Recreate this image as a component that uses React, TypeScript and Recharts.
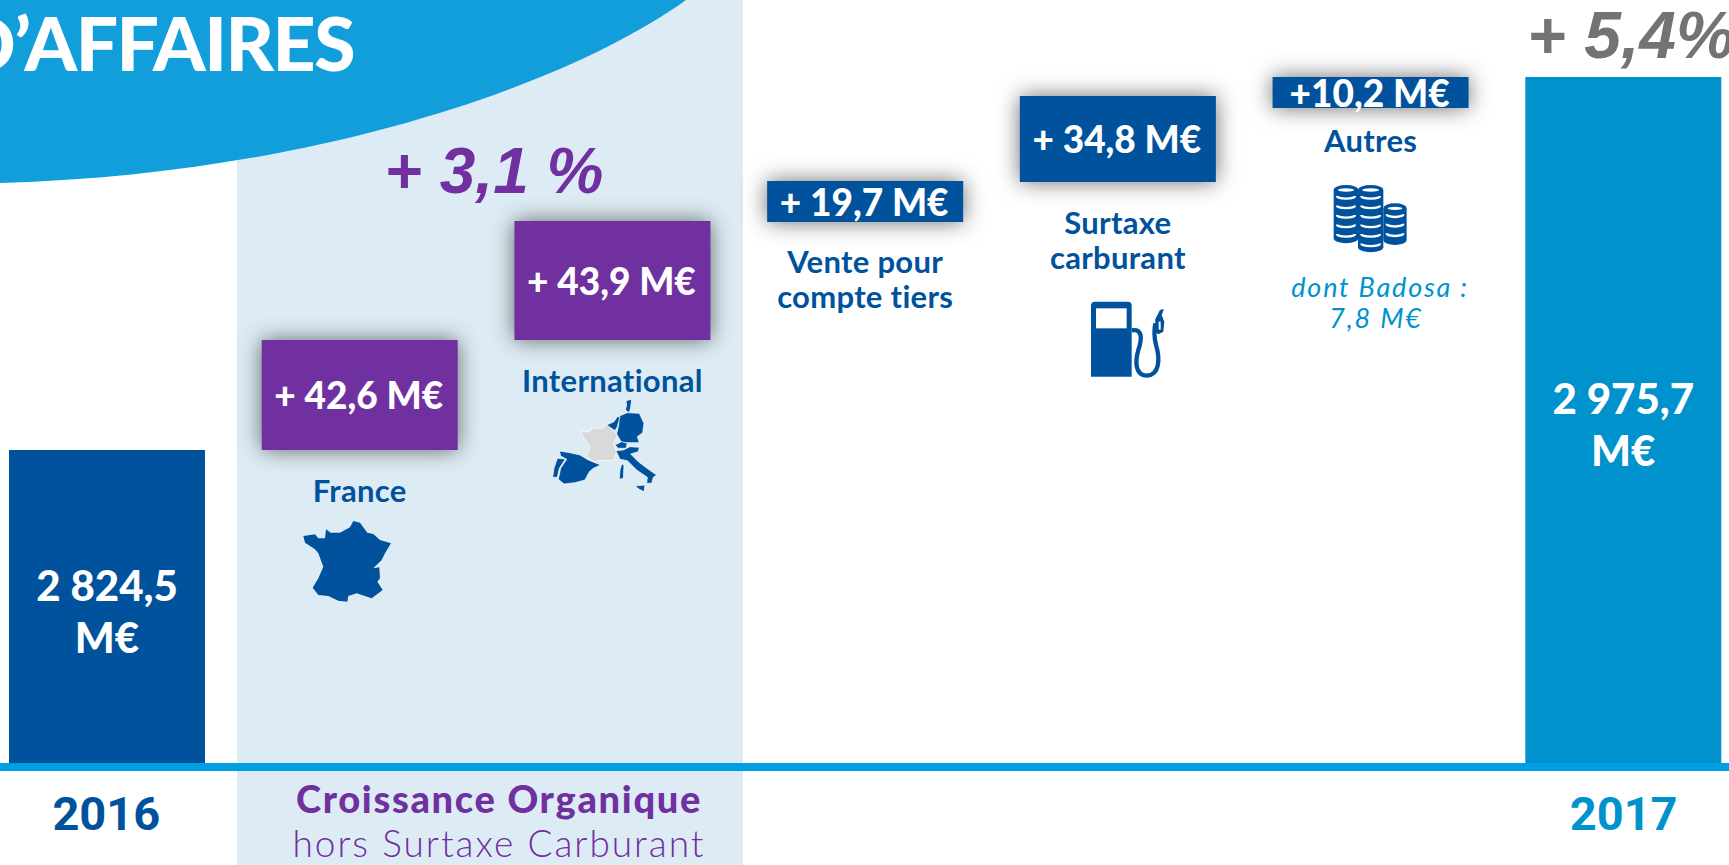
import { BarChart, Bar, XAxis, YAxis, LabelList, Rectangle } from 'recharts'

// bar extents are read off the picture in M€: the slide is not quite to scale
const categories = ['2016', 'France', 'International', 'Vente pour compte tiers', 'Surtaxe carburant', 'Autres', '2017']
const barLows = [2697.6, 2824.5, 2869.1, 2916.9, 2933.1, 2963.1, 2697.6]
const barHighs = [2824.5, 2869.1, 2917.3, 2933.5, 2968.0, 2975.7, 2975.7]
const barLabels = ['2 824,5 M€', '+ 42,6 M€', '+ 43,9 M€', '+ 19,7 M€', '+ 34,8 M€', '+10,2 M€', '2 975,7 M€']
const captions = [[], ['France'], ['International'], ['Vente pour', 'compte tiers'], ['Surtaxe', 'carburant'], ['Autres'], []]

const data = categories.map((name, i) => ({
  name,
  range: [barLows[i], barHighs[i]],
  label: barLabels[i],
}))

const BLUE = '#00529C'
const CYAN = '#0092CD'
const PURPLE = '#7030A0'
const barFills = [BLUE, PURPLE, PURPLE, BLUE, BLUE, BLUE, CYAN]
const captionGaps = [0, 52, 52, 51, 52, 44, 0]
const FONT = 'Lato, sans-serif'

function BarShape(props: any) {
  const i = props.index
  const withShadow = i > 0 && i < 6
  return (
    <Rectangle
      {...props}
      fill={barFills[i]}
      style={withShadow ? { filter: 'drop-shadow(0 0 11px rgba(30,30,30,0.65))' } : undefined}
    />
  )
}

function BarLabel(props: any) {
  const { x, y, width, height, value, index } = props
  const cx = x + width / 2
  const cy = y + height / 2
  if (index === 0 || index === 6) {
    const parts = String(value).split(' M€')
    return (
      <text textAnchor="middle" fill="#fff" fontFamily={FONT} fontWeight={900} fontSize={42}>
        <tspan x={cx} y={cy - 6}>{parts[0]}</tspan>
        <tspan x={cx} y={cy + 46}>M€</tspan>
      </text>
    )
  }
  return (
    <text x={cx - 1} y={cy + 14} textAnchor="middle" fill="#fff" fontFamily={FONT} fontWeight={900} fontSize={37}>
      {value}
    </text>
  )
}

function BarCaption(props: any) {
  const { x, y, width, height, index } = props
  const lines = captions[index]
  const bottom = y + height
  return (
    <text textAnchor="middle" fill={BLUE} fontFamily={FONT} fontWeight={700} fontSize={31} letterSpacing={0.3}>
      {lines.map((line: string, k: number) => (
        <tspan key={k} x={x + width / 2} y={bottom + captionGaps[index] + k * 35}>{line}</tspan>
      ))}
    </text>
  )
}

function YearTick(props: any) {
  const { x, y, payload, index } = props
  if (index !== 0 && index !== 6) return null
  return (
    <text x={index === 0 ? x - 1 : x} y={y + 55} textAnchor="middle" fill={index === 0 ? BLUE : CYAN}
      fontFamily="Roboto, sans-serif" fontWeight={700} fontSize={47}>
      {payload.value}
    </text>
  )
}

const francePts = '40,78 75,73 85,85 105,85 108,58 122,68 150,68 180,52 190,33 210,38 232,68 250,72 270,90 303,100 285,130 275,150 250,175 268,172 270,205 262,215 278,240 245,265 200,250 175,258 172,275 145,272 115,258 85,255 68,233 85,205 100,170 85,130 75,118 45,98'
const europeBlue = [
  '238,78 262,68 298,70 312,100 308,128 292,140 298,158 245,158 230,132 236,105',
  '258,32 275,28 272,52 268,68 256,60 260,45',
  '200,105 222,95 232,80 240,80 232,110 225,122',
  '225,165 245,155 262,160 258,175 235,175',
  '228,182 250,180 270,170 298,172 295,185 272,192 295,215 325,238 350,255 340,262 335,280 320,280 322,262 290,240 262,212 240,208',
  '285,288 315,285 312,305 298,298',
  '245,222 252,225 250,265 238,268 240,240',
  '58,183 90,188 120,195 145,210 182,225 160,235 148,245 135,270 105,278 72,282 55,268 62,235 80,208 62,198',
  '52,205 76,207 58,235 52,262 38,262 42,235',
]
const europeGrey = '122,125 150,125 155,115 185,115 200,105 225,125 232,138 220,160 230,185 222,210 200,212 180,210 165,215 140,200 150,170 135,150'

function CoinStack({ cx, rx, top, bottom, stripes }: { cx: number; rx: number; top: number; bottom: number; stripes: number }) {
  const lines = []
  for (let k = 0; k < stripes; k++) {
    const y = top + 18 + k * 28.5
    lines.push(<path key={k} d={`M${cx - rx + 10},${y} A${rx - 10},8 0 0 0 ${cx + rx - 10},${y}`} fill="none" stroke="#fff" strokeWidth={7} />)
  }
  return (
    <g>
      <path d={`M${cx - rx},${top} A${rx},15 0 0 1 ${cx + rx},${top} V${bottom - 15} A${rx},15 0 0 1 ${cx - rx},${bottom - 15} Z`} fill={BLUE} />
      <ellipse cx={cx} cy={top} rx={rx - 13} ry={5} fill="#fff" />
      {lines}
    </g>
  )
}

export default function App() {
  return (
    <div style={{ position: 'absolute', left: 0, top: 0, width: 1729, height: 865, overflow: 'hidden', background: '#fff' }}>
      <svg width={1729} height={865} style={{ position: 'absolute', left: 0, top: 0 }}>
        <rect x={237} y={0} width={506} height={865} fill="#DDECF4" />
      </svg>

      <div style={{ position: 'absolute', left: -19.33, top: 0 }}>
        <BarChart width={1769} height={865} data={data} margin={{ top: 0, right: 0, bottom: 0, left: 0 }} barSize={196}>
          <XAxis dataKey="name" height={98} interval={0} tickLine={false} tick={<YearTick />}
            axisLine={{ stroke: '#009EE2', strokeWidth: 8 }} />
          <YAxis hide domain={[2696, 3006.9]} />
          <Bar dataKey="range" isAnimationActive={false} shape={<BarShape />}>
            <LabelList dataKey="label" content={<BarLabel />} />
            <LabelList dataKey="label" content={<BarCaption />} />
          </Bar>
        </BarChart>
      </div>

      <svg width={1729} height={865} style={{ position: 'absolute', left: 0, top: 0 }}>
        <path d="M686,0 C560,90 300,175 0,183 L0,0 Z" fill="#129DDB" />
        <text x={354} y={71} textAnchor="end" fill="#fff" fontFamily={FONT} fontWeight={900} fontSize={75} letterSpacing={-1.5}>D’AFFAIRES</text>

        <text x={494} y={193} textAnchor="middle" fill={PURPLE} fontFamily="Liberation Sans" fontStyle="italic" fontWeight={700} fontSize={64}>+ 3,1 %</text>
        <text x={1631} y={58} textAnchor="middle" fill="#737373" fontFamily="Liberation Sans" fontStyle="italic" fontWeight={700} fontSize={66}>+ 5,4%</text>

        <text textAnchor="middle" fill={CYAN} fontFamily={FONT} fontStyle="italic" fontWeight={400} fontSize={27} letterSpacing={1.8}>
          <tspan x={1380} y={297}>dont Badosa :</tspan>
          <tspan x={1376} y={328}>7,8 M€</tspan>
        </text>

        <text x={499} y={813} textAnchor="middle" fill={PURPLE} fontFamily={FONT} fontWeight={900} fontSize={38} letterSpacing={1.7}>Croissance Organique</text>
        <text x={499} y={857} textAnchor="middle" fill={PURPLE} fontFamily={FONT} fontWeight={300} fontSize={37} letterSpacing={2}>hors Surtaxe Carburant</text>

        <g transform="translate(290,510) scale(0.3333)">
          <polygon points={francePts} fill={BLUE} />
        </g>

        <g transform="translate(540,390) scale(0.3333)" stroke="#fff" strokeWidth={2}>
          <polygon points={europeGrey} fill="#D9D9D9" />
          {europeBlue.map((pts, i) => <polygon key={i} points={pts} fill={BLUE} />)}
        </g>

        <g transform="translate(1080,295) scale(0.3333)">
          <path d="M33,245 V32 Q33,20 45,20 H143 Q155,20 155,32 V245 Z" fill={BLUE} />
          <rect x={48} y={40} width={92} height={60} fill="#fff" />
          <path d="M155,106 C190,100 185,135 175,165 C165,200 165,240 200,242 C240,240 240,190 228,150 C222,125 222,105 226,85"
            fill="none" stroke={BLUE} strokeWidth={13} />
          <path d="M240,45 L252,42 L245,60 L253,80 L250,110 L235,118 L225,110 L226,72 Z" fill={BLUE} />
          <rect x={236} y={80} width={6} height={24} fill="#fff" />
        </g>

        <g transform="translate(1320,175) scale(0.3333)">
          <CoinStack cx={78} rx={37} top={45} bottom={205} stripes={5} />
          <CoinStack cx={225} rx={35} top={100} bottom={210} stripes={3} />
          <CoinStack cx={152} rx={38} top={45} bottom={232} stripes={6} />
        </g>
      </svg>
    </div>
  )
}
